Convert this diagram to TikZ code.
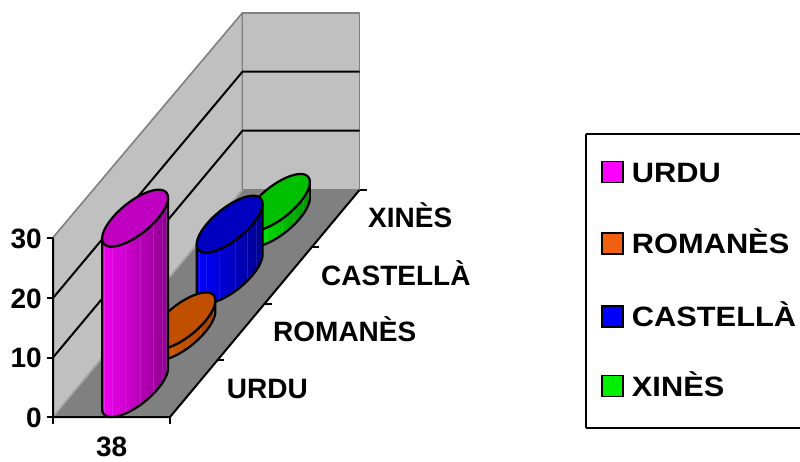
\documentclass[tikz,border=0pt]{standalone}
\usepackage{fontspec}
\setmainfont{Liberation Sans}
\usepackage{graphicx}
\definecolor{wallgray}{HTML}{C0C0C0}
\definecolor{edgegray}{HTML}{808080}
\definecolor{floorgray}{HTML}{808080}
\definecolor{seamgray}{HTML}{B0B0B0}
\definecolor{magL}{HTML}{F000F0}
\definecolor{magD}{HTML}{8E008E}
\definecolor{magT}{HTML}{C000C0}
\definecolor{oraL}{HTML}{E06000}
\definecolor{oraD}{HTML}{A04000}
\definecolor{oraT}{HTML}{C05000}
\definecolor{bluL}{HTML}{0000FF}
\definecolor{bluD}{HTML}{00008E}
\definecolor{bluT}{HTML}{0000C0}
\definecolor{greL}{HTML}{00FF00}
\definecolor{greD}{HTML}{009000}
\definecolor{greT}{HTML}{00C000}
\definecolor{legMag}{HTML}{FF00FF}
\definecolor{legOra}{HTML}{F06010}
\definecolor{legBlu}{HTML}{0000FF}
\definecolor{legGre}{HTML}{00F000}
\tikzset{
  lab/.style={font=\fontsize{28}{30}\selectfont\bfseries, inner sep=0pt, text=black},
  wall/.style={fill=wallgray, draw=edgegray, line width=1.6pt, line join=round},
  gridline/.style={draw=black, line width=2pt},
  axisline/.style={draw=black, line width=2pt},
  outl/.style={draw=black, line width=2.2pt, line join=round},
  swatch/.style={draw=black, line width=1.6pt, minimum width=21pt, minimum height=21pt, inner sep=0pt},
}
% ellipse parameters (pixels)
\def\ea{23}
\def\eb{23.6}
\def\ed{28.4}
\def\tz{45.74}
\newcommand{\mycyl}[6]{%
  \pgfmathsetmacro{\ty}{#2-#3}
  \fill[left color=#4, right color=#5]
    plot[domain={\tz+180}:{\tz+360}, samples=60, variable=\t]
      ({#1+\ea*cos(\t)+\eb*sin(\t)},{#2-\ed*sin(\t)})
    -- plot[domain={\tz+360}:{\tz+180}, samples=60, variable=\t]
      ({#1+\ea*cos(\t)+\eb*sin(\t)},{\ty-\ed*sin(\t)}) -- cycle;
  \foreach \s/\o in {0.12/0.12,0.25/0.1,0.4/0.08,0.55/0.1,0.68/0.12,0.8/0.1,0.9/0.14}{%
    \pgfmathsetmacro{\tt}{\tz+180+180*\s}
    \draw[white, opacity=\o, line width=0.5pt]
      ({#1+\ea*cos(\tt)+\eb*sin(\tt)},{#2-\ed*sin(\tt)}) --
      ({#1+\ea*cos(\tt)+\eb*sin(\tt)},{\ty-\ed*sin(\tt)});
  }
  \draw[outl]
    plot[domain={\tz+180}:{\tz+360}, samples=60, variable=\t]
      ({#1+\ea*cos(\t)+\eb*sin(\t)},{#2-\ed*sin(\t)})
    -- plot[domain={\tz+360}:{\tz+180}, samples=60, variable=\t]
      ({#1+\ea*cos(\t)+\eb*sin(\t)},{\ty-\ed*sin(\t)}) -- cycle;
  \filldraw[outl, fill=#6]
    plot[domain=0:360, samples=90, variable=\t]
      ({#1+\ea*cos(\t)+\eb*sin(\t)},{\ty-\ed*sin(\t)}) -- cycle;
}
\begin{document}
\begin{tikzpicture}[x=1pt, y=-1pt]
\useasboundingbox (0,0) rectangle (800,461);
% walls
\coordinate (FL) at (53,417);
\coordinate (FR) at (170,417);
\coordinate (BL) at (242.5,190);
\coordinate (BR) at (359.5,190);
\coordinate (FT) at (53,237.5);
\coordinate (BT) at (242.5,12.7);
\coordinate (BRT) at (359.5,12.7);
\draw[wall] (FL) -- (FT) -- (BT) -- (BL) -- cycle;
\draw[wall] (BL) -- (BT) -- (BRT) -- (BR) -- cycle;
\fill[floorgray] (FL) -- (FR) -- (BR) -- (BL) -- cycle;
\draw[edgegray, line width=1.6pt] (BL) -- (BR);
\draw[seamgray, line width=1pt] (FL) -- (BL);
% gridlines
\draw[gridline] (53,357.5) -- (242.5,130.7) -- (359.5,130.7);
\draw[gridline] (53,298) -- (242.5,71.7) -- (359.5,71.7);
% axes
\draw[axisline] (FT) -- (FL) -- (FR) -- (BR);
\foreach \yy in {417,357.5,298,237.5} \draw[axisline] (46.5,\yy) -- (53,\yy);
\draw[axisline] (53,417) -- (53,423.5);
\draw[axisline] (170,417) -- (170,423.5);
\foreach \k in {1,2,3,4} {
  \pgfmathsetmacro{\px}{170+47.375*\k}
  \pgfmathsetmacro{\py}{417-56.75*\k}
  \draw[axisline] (\px,\py) -- (\px+7,\py);
}
% cylinders (back to front)
\mycyl{276.9}{218.4}{16}{greL}{greD}{greT}
\mycyl{229.6}{275.1}{51}{bluL}{bluD}{bluT}
\mycyl{182.4}{331.9}{11}{oraL}{oraD}{oraT}
\mycyl{135.1}{388.6}{170.5}{magL}{magD}{magT}
% value axis labels
\node[lab, anchor=base east] (v0) at (42,427) {0};
\node[lab, anchor=base east] (v10) at (42,367.5) {10};
\node[lab, anchor=base east] (v20) at (42,308) {20};
\node[lab, anchor=base east] (v30) at (42,248) {30};
\node[lab, anchor=base] (c38) at (111.7,456) {38};
% series labels
\node[lab, anchor=base west] (sU) at (226.7,398) {URDU};
\node[lab, anchor=base west] (sR) at (273,341.7) {ROMANÈS};
\node[lab, anchor=base west] (sC) at (321,285) {CASTELLÀ};
\node[lab, anchor=base west] (sX) at (368,227) {XINÈS};
% legend
\draw[black, line width=1.8pt] (586,134) -- (806,134) (586,428) -- (806,428) (586,134) -- (586,428);
\node[swatch, fill=legMag] (k1) at (612.5,172) {};
\node[swatch, fill=legOra] (k2) at (612.5,243.5) {};
\node[swatch, fill=legBlu] (k3) at (612.5,316.5) {};
\node[swatch, fill=legGre] (k4) at (612.5,386) {};
\node[lab, anchor=base west] (t1) at (631.7,182) {\scalebox{1.1}[1]{URDU}};
\node[lab, anchor=base west] (t2) at (631.7,253.5) {\scalebox{1.1}[1]{ROMANÈS}};
\node[lab, anchor=base west] (t3) at (631.7,326.5) {\scalebox{1.1}[1]{CASTELLÀ}};
\node[lab, anchor=base west] (t4) at (631.7,396) {\scalebox{1.1}[1]{XINÈS}};
\end{tikzpicture}
\end{document}
